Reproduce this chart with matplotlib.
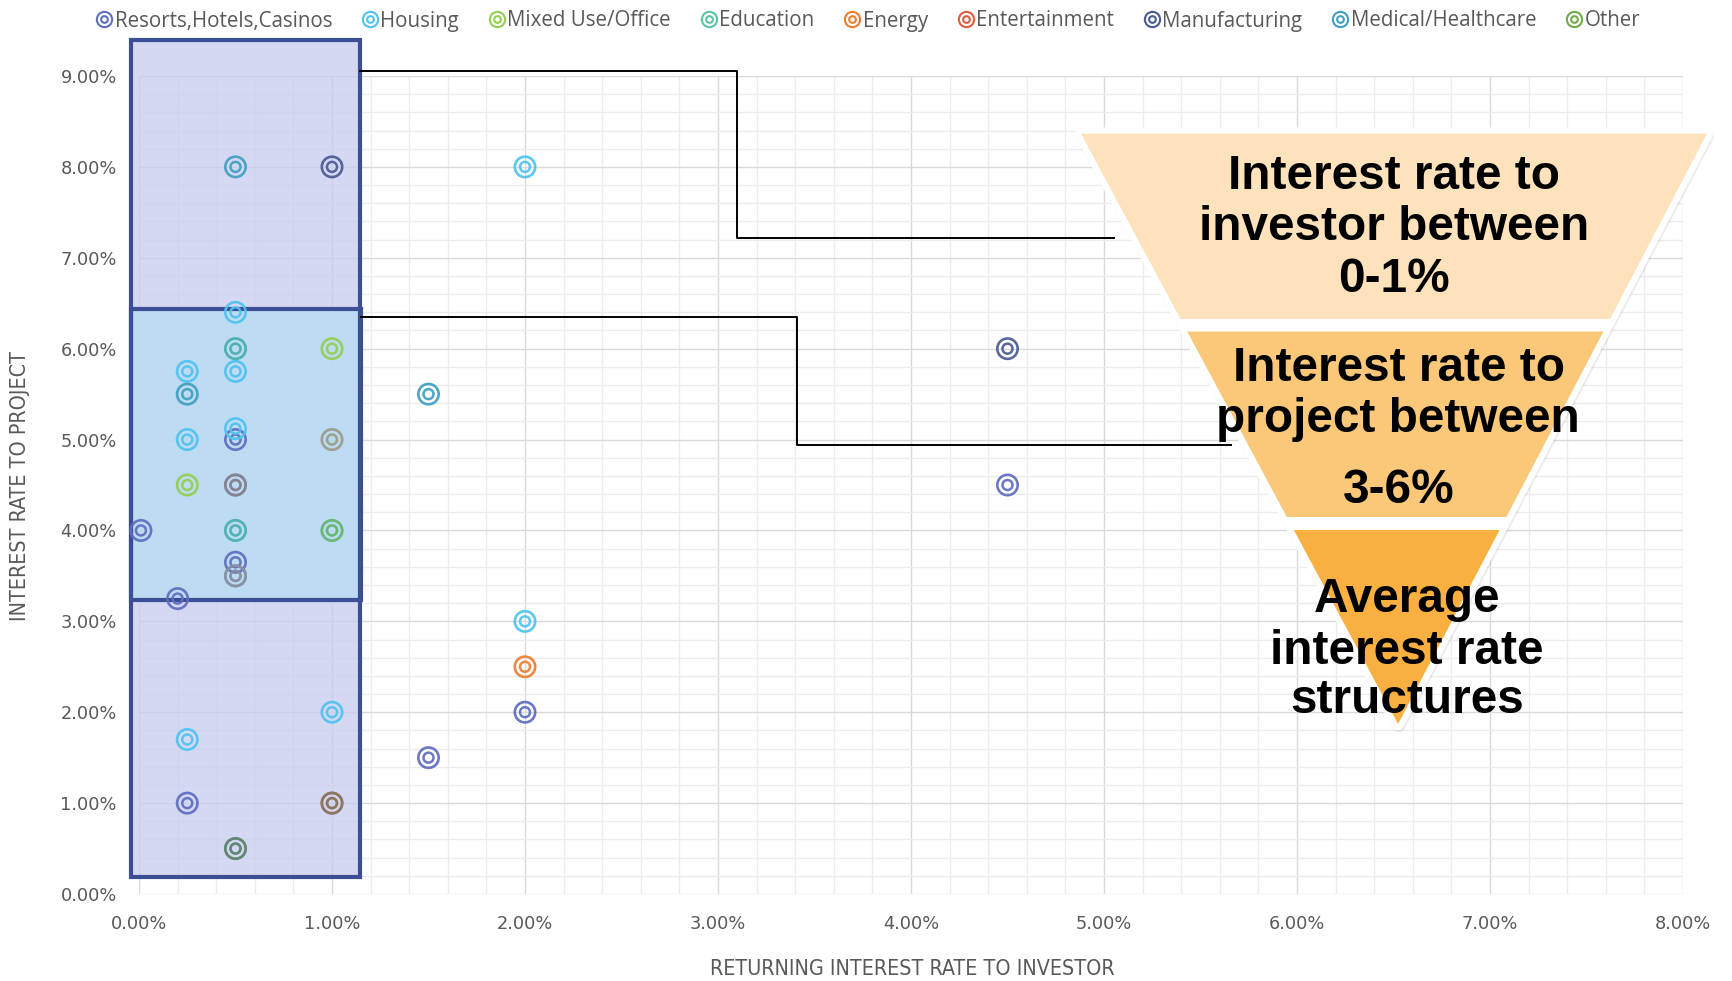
import numpy as np
import matplotlib
matplotlib.use('Agg')
import matplotlib.pyplot as plt
from matplotlib import font_manager as fm
from matplotlib.lines import Line2D
from matplotlib.patches import Rectangle, Polygon
from matplotlib.legend_handler import HandlerTuple
from matplotlib.ticker import MultipleLocator, FuncFormatter
from matplotlib.colors import to_rgba

# ---------------- data ----------------
categories = ['Resorts,Hotels,Casinos', 'Housing', 'Mixed Use/Office', 'Education',
              'Energy', 'Entertainment', 'Manufacturing', 'Medical/Healthcare', 'Other']

resorts_x = [0.5, 0.01, 0.5, 0.2, 2.0, 1.5, 0.25, 4.5, 0.5, 0.5]
resorts_y = [5.0, 4.0, 3.65, 3.25, 2.0, 1.5, 1.0, 4.5, 4.5, 3.5]
housing_x = [2.0, 0.5, 0.25, 0.5, 0.5, 0.25, 2.0, 1.0, 0.25, 1.0, 0.5]
housing_y = [8.0, 6.4, 5.75, 5.75, 5.12, 5.0, 3.0, 2.0, 1.7, 5.0, 3.5]
mixed_x = [1.0, 0.25]
mixed_y = [6.0, 4.5]
education_x = [1.0, 0.5, 0.5]
education_y = [4.0, 4.0, 6.0]
energy_x = [2.0, 1.0, 0.5, 0.5]
energy_y = [2.5, 5.0, 4.5, 3.5]
entertainment_x = [1.0]
entertainment_y = [1.0]
manufacturing_x = [1.0, 4.5, 1.0, 0.5]
manufacturing_y = [8.0, 6.0, 1.0, 0.5]
medical_x = [0.5, 0.5, 0.25, 1.5, 0.5, 0.5]
medical_y = [8.0, 6.0, 5.5, 5.5, 4.0, 4.5]
other_x = [1.0, 1.0, 0.5]
other_y = [4.0, 1.0, 0.5]

series_x = [resorts_x, housing_x, mixed_x, education_x, energy_x,
            entertainment_x, manufacturing_x, medical_x, other_x]
series_y = [resorts_y, housing_y, mixed_y, education_y, energy_y,
            entertainment_y, manufacturing_y, medical_y, other_y]

x_ticks = [0, 1, 2, 3, 4, 5, 6, 7, 8]
y_ticks = [0, 1, 2, 3, 4, 5, 6, 7, 8, 9]

# highlighted ranges (in % units)
outer_box_x = [-0.04, 1.145]
outer_box_y = [0.19, 9.40]
inner_box_x = [-0.04, 1.15]
inner_box_y = [3.24, 6.44]

conn1_x = [1.145, 3.10, 3.10, 5.05]
conn1_y = [9.05, 9.05, 7.22, 7.22]
conn2_x = [1.15, 3.41, 3.41, 5.66]
conn2_y = [6.35, 6.35, 4.94, 4.94]

funnel_lines = [["Interest rate to", "investor between", "0-1%"],
                ["Interest rate to", "project between", "3-6%"],
                ["Average", "interest rate", "structures"]]

x_title = 'RETURNING INTEREST RATE TO INVESTOR'
y_title = 'INTEREST RATE TO PROJECT'

# ---------------- styles ----------------
colors = ['#5F6DC0', '#4EC3F0', '#92D050', '#5CC5A0', '#ED7D31',
          '#E15B3D', '#4B5A94', '#3F9FC2', '#70AD47']
GRAY_TXT = '#595959'
W, H = 1733, 981
DPI = 100

# choose a condensed font for the axis titles if one is installed
names = {f.name for f in fm.fontManager.ttflist}
cond_dejavu = any(('DejaVu' in f.name and 'ondensed' in f.fname) for f in fm.fontManager.ttflist)
if 'Liberation Sans Narrow' in names:
    title_kw = dict(family=['Liberation Sans Narrow', 'DejaVu Sans'], fontsize=16.8)
elif cond_dejavu:
    title_kw = dict(family=['DejaVu Sans'], fontstretch='condensed', fontsize=15.4)
else:
    title_kw = dict(family=['Liberation Sans', 'DejaVu Sans'], fontsize=14)

fig = plt.figure(figsize=(W / DPI, H / DPI), dpi=DPI, facecolor='white')
ax = fig.add_axes([139 / W, 1 - 894 / H, (1683 - 139) / W, (894 - 76) / H])
ax.set_xlim(0, 8)
ax.set_ylim(0, 9)
for s in ax.spines.values():
    s.set_visible(False)

ax.xaxis.set_minor_locator(MultipleLocator(0.2))
ax.yaxis.set_minor_locator(MultipleLocator(0.2))
ax.set_xticks(x_ticks)
ax.set_yticks(y_ticks)
fmt = FuncFormatter(lambda v, _: f'{v:.2f}%')
ax.xaxis.set_major_formatter(fmt)
ax.yaxis.set_major_formatter(fmt)
ax.tick_params(which='both', length=0)
ax.tick_params(axis='x', pad=15, labelsize=12.8, labelcolor=GRAY_TXT)
ax.tick_params(axis='y', pad=16, labelsize=12.8, labelcolor=GRAY_TXT)
ax.grid(which='major', color='#d9d9d9', lw=1.0, zorder=0)
ax.grid(which='minor', color='#ececec', lw=1.0, zorder=0)
ax.set_axisbelow(True)

# highlight boxes
ax.add_patch(Rectangle((outer_box_x[0], outer_box_y[0]), outer_box_x[1] - outer_box_x[0],
                       outer_box_y[1] - outer_box_y[0], facecolor='#c7ccee', alpha=0.75,
                       edgecolor='none', zorder=1, clip_on=False))
ax.add_patch(Rectangle((inner_box_x[0], inner_box_y[0]), inner_box_x[1] - inner_box_x[0],
                       inner_box_y[1] - inner_box_y[0], facecolor='#b6ddf2', alpha=0.75,
                       edgecolor='none', zorder=1.1, clip_on=False))
ax.add_patch(Rectangle((outer_box_x[0], outer_box_y[0]), outer_box_x[1] - outer_box_x[0],
                       outer_box_y[1] - outer_box_y[0], facecolor='none',
                       edgecolor='#3B4E96', lw=3.0, zorder=2, clip_on=False))
ax.add_patch(Rectangle((inner_box_x[0], inner_box_y[0]), inner_box_x[1] - inner_box_x[0],
                       inner_box_y[1] - inner_box_y[0], facecolor='none',
                       edgecolor='#3B4E96', lw=3.0, zorder=2.1, clip_on=False))

# connector lines
ax.plot(conn1_x, conn1_y, color='black', lw=1.4, zorder=2.5, clip_on=False)
ax.plot(conn2_x, conn2_y, color='black', lw=1.4, zorder=2.5, clip_on=False)

# scatter markers (double rings); overlapping points blend
seen = {}
for i, (xs, ys) in enumerate(zip(series_x, series_y)):
    rgba = []
    for x, y in zip(xs, ys):
        key = (round(x, 3), round(y, 3))
        k = seen.get(key, 0)
        a = 0.92 if k == 0 else 1.0 / (k + 1)
        seen[key] = k + 1
        rgba.append(to_rgba(colors[i], a))
    ax.scatter(xs, ys, s=215, facecolors='none', edgecolors=rgba, linewidths=1.9,
               zorder=4 + i * 0.01, clip_on=False)
    ax.scatter(xs, ys, s=52, facecolors='none', edgecolors=rgba, linewidths=1.8,
               zorder=4 + i * 0.01, clip_on=False)

# axis titles
fig.text(912 / W, 1 - 969 / H, x_title, ha='center', va='center',
         color=GRAY_TXT, **title_kw)
fig.text(20 / W, 1 - 486 / H, y_title, ha='center', va='center',
         color=GRAY_TXT, rotation=90, **title_kw)

# legend
handles = []
for c in colors:
    h1 = Line2D([], [], ls='none', marker='o', ms=11, mfc='none', mec=c, mew=1.5)
    h2 = Line2D([], [], ls='none', marker='o', ms=4.8, mfc='none', mec=c, mew=1.5)
    handles.append((h1, h2))
fig.legend(handles, categories, loc='center', bbox_to_anchor=(868 / W, 1 - 21 / H),
           ncol=9, frameon=False, handler_map={tuple: HandlerTuple(ndivide=1, pad=0)},
           prop={'family': ['Open Sans', 'DejaVu Sans'], 'size': 14.8},
           labelcolor=GRAY_TXT, handlelength=0.8, handletextpad=0.12,
           columnspacing=1.43, borderpad=0)

# funnel (figure pixel layout)
def fp(px, py):
    return (px / W, 1 - py / H)

top_y, apex_y = 133.7, 724.0
top_l, top_r, apex_x = 1081.0, 1707.0, 1398.0

def xl(y):
    return top_l + (apex_x - top_l) * (y - top_y) / (apex_y - top_y)

def xr(y):
    return top_r + (apex_x - top_r) * (y - top_y) / (apex_y - top_y)

tri = [fp(top_l, top_y), fp(top_r, top_y), fp(apex_x, apex_y)]
tri_sh = [fp(top_l + 1, top_y + 2), fp(top_r + 1, top_y + 2), fp(apex_x + 1, apex_y + 2)]
fig.patches.append(Polygon(tri_sh, closed=True, transform=fig.transFigure, facecolor='#000000',
                           edgecolor='#000000', lw=9, alpha=0.08, joinstyle='round', zorder=5))
fig.patches.append(Polygon(tri, closed=True, transform=fig.transFigure, facecolor='white',
                           edgecolor='white', lw=9, joinstyle='round', zorder=5.1))

bands = [(133.7, 319.0), (331.5, 517.0), (530.0, 724.0)]
band_colors = ['#FDE2BC', '#FAC878', '#F9B040']
for (y0, y1), bc in zip(bands, band_colors):
    if y1 >= apex_y - 0.1:
        pts = [fp(xl(y0), y0), fp(xr(y0), y0), fp(apex_x, apex_y)]
    else:
        pts = [fp(xl(y0), y0), fp(xr(y0), y0), fp(xr(y1), y1), fp(xl(y1), y1)]
    fig.patches.append(Polygon(pts, closed=True, transform=fig.transFigure,
                               facecolor=bc, edgecolor='none', zorder=5.2))

funnel_pos = [[(1394, 189), (1394, 240.5), (1394, 292)],
              [(1399, 381), (1398, 432), (1399, 503)],
              [(1407, 612), (1407, 663.5), (1407, 713)]]
for lines, poss in zip(funnel_lines, funnel_pos):
    for t, (px, py) in zip(lines, poss):
        fig.text(*fp(px, py), t, ha='center', va='baseline', fontsize=34.4,
                 fontweight='bold', family=['Liberation Sans', 'DejaVu Sans'],
                 color='black', zorder=6)

fig.savefig('out.png', dpi=DPI, facecolor='white')
